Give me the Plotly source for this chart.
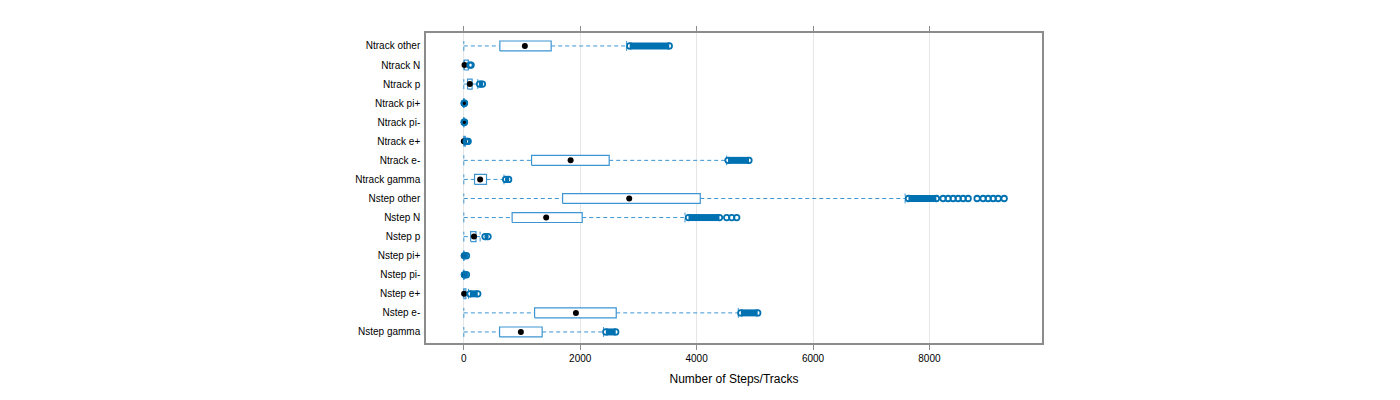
import plotly.graph_objects as go

# categorias de baixo para cima
categorias = ["Nstep gamma", "Nstep e-", "Nstep e+", "Nstep pi-", "Nstep pi+", "Nstep p",
              "Nstep N", "Nstep other", "Ntrack gamma", "Ntrack e-", "Ntrack e+", "Ntrack pi-",
              "Ntrack pi+", "Ntrack p", "Ntrack N", "Ntrack other"]

bigode_inf = [0, 0, 0, 0, 0, 0, 0, 0, 0, 0, 0, 0, 0, 0, 0, 0]
q1 = [614, 1216, 0, 0, 0, 117, 830, 1697, 184, 1164, 0, 0, 0, 64, 10, 619]
mediana = [980, 1926, 5, 0, 0, 175, 1415, 2842, 280, 1835, 0, 0, 0, 103, 12, 1049]
q3 = [1346, 2619, 35, 0, 0, 209, 2034, 4063, 390, 2498, 20, 0, 0, 143, 75, 1501]
bigode_sup = [2400, 4716, 80, 0, 0, 280, 3800, 7583, 690, 4517, 30, 0, 0, 240, 80, 2797]

# faixas densas de outliers (inicio, fim)
faixa_ini = [2440, 4760, 105, 10, 10, 364, 3860, 7640, 719, 4540, None, None, None, 270, None, 2850]
faixa_fim = [2610, 5050, 240, 45, 45, 416, 4393, 8120, 770, 4900, None, None, None, 320, None, 3530]

# outliers isolados
outliers_isolados = [
    [], [], [], [], [], [],
    [4517, 4603, 4689],
    [8236, 8322, 8408, 8494, 8580, 8666, 8820, 8924, 9010, 9096, 9182, 9285],
    [], [],
    [40, 60, 75],
    [5, 12],
    [5, 12],
    [],
    [105, 125],
    [],
]

COR_CAIXA = '#3d95d2'
COR_OUT = '#0072b2'
MEIA_ALT = 0.26

pos = list(range(len(categorias)))

# bigodes tracejados + guarda-chuvas
bx, by = [], []
for i in pos:
    if bigode_inf[i] < q1[i]:
        bx += [bigode_inf[i], q1[i], None]
        by += [i, i, None]
    if bigode_sup[i] > q3[i]:
        bx += [q3[i], bigode_sup[i], None]
        by += [i, i, None]
    for v in (bigode_inf[i], bigode_sup[i]):
        bx += [v, v, None]
        by += [i - MEIA_ALT, i + MEIA_ALT, None]

# caixas
cx, cy = [], []
for i in pos:
    cx += [q1[i], q3[i], q3[i], q1[i], q1[i], None]
    cy += [i - MEIA_ALT, i - MEIA_ALT, i + MEIA_ALT, i + MEIA_ALT, i - MEIA_ALT, None]

# faixas de outliers
fx, fy, ex, ey = [], [], [], []
for i in pos:
    if faixa_ini[i] is not None:
        fx += [faixa_ini[i], faixa_fim[i], None]
        fy += [i, i, None]
        ex += [faixa_ini[i], faixa_fim[i]]
        ey += [i, i]

ox, oy = [], []
for i in pos:
    ox += outliers_isolados[i]
    oy += [i] * len(outliers_isolados[i])

fig = go.Figure()
fig.add_trace(go.Scatter(x=bx, y=by, mode='lines',
                         line=dict(color=COR_CAIXA, width=1, dash='4px,3px')))
fig.add_trace(go.Scatter(x=cx, y=cy, mode='lines', fill='toself', fillcolor='white',
                         line=dict(color=COR_CAIXA, width=1.2)))
fig.add_trace(go.Scatter(x=mediana, y=pos, mode='markers',
                         marker=dict(color='black', size=6, symbol='circle')))
fig.add_trace(go.Scatter(x=fx, y=fy, mode='lines',
                         line=dict(color=COR_OUT, width=7)))
fig.add_trace(go.Scatter(x=ex + ox, y=ey + oy, mode='markers',
                         marker=dict(symbol='circle-open', size=5.5, color=COR_OUT,
                                     line=dict(width=1.8, color=COR_OUT))))

fig.update_layout(
    width=1400, height=400,
    margin=dict(l=418, r=366, t=25, b=65),
    plot_bgcolor='white', paper_bgcolor='white',
    showlegend=False,
    font=dict(family='Liberation Sans, Arial, sans-serif', size=10, color='#000000'),
)
fig.update_xaxes(range=[-650, 9935], tickvals=[0, 2000, 4000, 6000, 8000],
                 showgrid=True, gridcolor='#e6e6e6', gridwidth=1, zeroline=False,
                 showline=True, linecolor='#8c8c8c', linewidth=1.5, mirror='ticks',
                 ticks='outside', ticklen=5, tickcolor='#8c8c8c',
                 title=dict(text='Number of Steps/Tracks', font=dict(size=12), standoff=12))
fig.update_yaxes(range=[-0.58, 15.68], tickvals=pos, ticktext=categorias,
                 showgrid=False, zeroline=False,
                 showline=True, linecolor='#8c8c8c', linewidth=1.5, mirror=True,
                 ticks='', ticklabelstandoff=2)

fig.write_html("out.html")
